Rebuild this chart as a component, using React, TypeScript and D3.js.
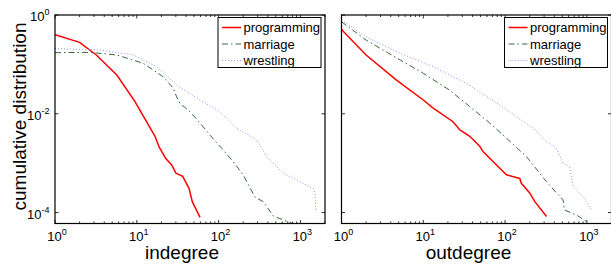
import { useEffect, useRef } from 'react'
import * as d3 from 'd3'

// [degree, cumulative fraction]
const inProgramming: [number, number][] = [
  [1, 0.40], [2, 0.28], [3.2, 0.155], [5.7, 0.061], [9.5, 0.0176], [16.7, 0.0035],
  [18.8, 0.0021], [22.5, 0.00125], [26.7, 0.00092], [30.1, 0.00063], [36.4, 0.00054],
  [43.5, 0.00031], [47.7, 0.000166], [59.3, 0.00008],
]
const inMarriage: [number, number][] = [
  [1, 0.173], [2.7, 0.175], [5.7, 0.155], [12, 0.105], [21.1, 0.056], [27.9, 0.033],
  [30.7, 0.022], [33.7, 0.0163], [44.7, 0.011], [59.3, 0.0065], [78.5, 0.0037],
  [109, 0.002], [151, 0.00107], [200, 0.00058], [279, 0.000204], [352, 0.000166],
  [467, 0.000085], [745, 0.000063], [790, 0.00006],
]
const inWrestling: [number, number][] = [
  [1, 0.21], [3.55, 0.195], [9.1, 0.155], [17.5, 0.09], [30.7, 0.038], [59.3, 0.019],
  [104, 0.011], [166, 0.0051], [292, 0.003], [387, 0.00135], [617, 0.00063],
  [1194, 0.00036], [1460, 0.0003], [1520, 0.00022], [1540, 0.000105],
]
const outProgramming: [number, number][] = [
  [1, 0.51], [2, 0.155], [4.7, 0.048], [10, 0.019], [13.2, 0.013], [23.1, 0.0069],
  [28, 0.0047], [37, 0.0035], [49, 0.0022], [54, 0.0017], [78.5, 0.00092],
  [104, 0.00058], [151, 0.00049], [158, 0.00039], [200, 0.00025], [231, 0.000166],
  [321, 0.000083],
]
const outMarriage: [number, number][] = [
  [1, 0.73], [2, 0.31], [5.2, 0.123], [10, 0.066], [21, 0.03], [37, 0.014], [65, 0.0065],
  [104, 0.0032], [183, 0.00135], [321, 0.00042], [425, 0.00025], [512, 0.00018],
  [531, 0.000113], [745, 0.000089], [990, 0.000066],
]
const outWrestling: [number, number][] = [
  [1, 0.79], [2, 0.36], [5.2, 0.168], [13.2, 0.09], [33.7, 0.041], [86, 0.015],
  [138, 0.0087], [220, 0.0051], [321, 0.0027], [425, 0.002], [512, 0.001], [617, 0.00085],
  [678, 0.00033], [898, 0.00021], [1137, 0.000113],
]

const seriesNames = ['programming', 'marriage', 'wrestling']
const colors = ['#ff0000', '#3a6646', '#8f8fff']
const dashes = [null, '6,3,1.5,3', '1,2']
const widths = [1.5, 1, 1]

const panels = [
  { xlabel: 'indegree', series: [inProgramming, inMarriage, inWrestling], ylabels: true },
  { xlabel: 'outdegree', series: [outProgramming, outMarriage, outWrestling], ylabels: false },
]

const xDomain: [number, number] = [1, 2000]
const yDomain: [number, number] = [6e-5, 1]
const xTicks = [1, 10, 100, 1000]
const yTicks = [1e-4, 1e-2, 1]

export default function App() {
  const svgRef = useRef<SVGSVGElement>(null)
  const width = 611
  const height = 264

  useEffect(() => {
    const svg = d3.select(svgRef.current)
    svg.selectAll('*').remove()
    const font = 'Liberation Sans, Arial, Helvetica, sans-serif'

    const top = 15, bottom = 223.5
    const lefts = [55, 341.5]
    const pw = 270

    const y = d3.scaleLog().domain(yDomain).range([bottom, top])

    panels.forEach((p, pi) => {
      const x = d3.scaleLog().domain(xDomain).range([lefts[pi], lefts[pi] + pw])
      const g = svg.append('g')

      const clipId = `clip${pi}`
      svg.append('clipPath').attr('id', clipId)
        .append('rect').attr('x', lefts[pi]).attr('y', top).attr('width', pw).attr('height', bottom - top)

      const line = d3.line<[number, number]>()
        .x(d => x(d[0]))
        .y(d => y(d[1]))

      p.series.forEach((s, si) => {
        g.append('path')
          .attr('d', line(s))
          .attr('clip-path', `url(#${clipId})`)
          .attr('fill', 'none')
          .attr('stroke', colors[si])
          .attr('stroke-width', widths[si])
          .attr('stroke-dasharray', dashes[si])
      })

      // box
      g.append('rect')
        .attr('x', lefts[pi]).attr('y', top).attr('width', pw).attr('height', bottom - top)
        .attr('fill', 'none').attr('stroke', '#000').attr('stroke-width', 1.2)

      // x ticks (major + minor), bottom and top, inward
      const minor: number[] = []
      for (let e = 0; e < 4; e++) for (let m = 1; m < 10; m++) {
        const v = m * Math.pow(10, e)
        if (v <= xDomain[1]) minor.push(v)
      }
      minor.forEach(v => {
        const len = xTicks.includes(v) ? 3.5 : 2
        const xx = x(v)
        g.append('line').attr('x1', xx).attr('x2', xx).attr('y1', bottom).attr('y2', bottom - len)
          .attr('stroke', '#000').attr('stroke-width', 0.8)
        g.append('line').attr('x1', xx).attr('x2', xx).attr('y1', top).attr('y2', top + len)
          .attr('stroke', '#000').attr('stroke-width', 0.8)
      })
      yTicks.forEach(v => {
        const yy = y(v)
        g.append('line').attr('x1', lefts[pi]).attr('x2', lefts[pi] + 3.5).attr('y1', yy).attr('y2', yy)
          .attr('stroke', '#000').attr('stroke-width', 0.8)
        g.append('line').attr('x1', lefts[pi] + pw).attr('x2', lefts[pi] + pw - 3.5).attr('y1', yy).attr('y2', yy)
          .attr('stroke', '#000').attr('stroke-width', 0.8)
      })

      // x tick labels
      xTicks.forEach(v => {
        const t = g.append('text')
          .attr('x', x(v) + 2).attr('y', 240.5)
          .attr('text-anchor', 'middle')
          .style('font-family', font).style('font-size', '13px')
        t.append('tspan').text('10')
        t.append('tspan').attr('dy', -6).style('font-size', '9px').text(String(Math.round(Math.log10(v))))
      })

      if (p.ylabels) {
        yTicks.forEach(v => {
          const t = g.append('text')
            .attr('x', 49.5).attr('y', y(v) + 6)
            .attr('text-anchor', 'end')
            .style('font-family', font).style('font-size', '13px')
          t.append('tspan').text('10')
          t.append('tspan').attr('dy', -6).style('font-size', '9px').text(String(Math.round(Math.log10(v))))
        })
      }

      g.append('text')
        .attr('x', lefts[pi] + pw / 2 - 8).attr('y', 259)
        .attr('text-anchor', 'middle')
        .style('font-family', font).style('font-size', '19px')
        .text(p.xlabel)

      // legend
      const lx = lefts[pi] + pw - 107
      const ly = 17.5
      g.append('rect').attr('x', lx).attr('y', ly).attr('width', 103).attr('height', 50)
        .attr('fill', '#fff').attr('stroke', '#000').attr('stroke-width', 1)
      seriesNames.forEach((name, si) => {
        const yy = ly + 10 + si * 16.5
        g.append('line').attr('x1', lx + 4).attr('x2', lx + 23).attr('y1', yy).attr('y2', yy)
          .attr('stroke', colors[si]).attr('stroke-width', widths[si])
          .attr('stroke-dasharray', dashes[si])
        g.append('text').attr('x', lx + 25.5).attr('y', yy + 4.5)
          .style('font-family', font).style('font-size', '13px')
          .text(name)
      })
    })

    svg.append('text')
      .attr('transform', `translate(26, 116.5) rotate(-90)`)
      .attr('text-anchor', 'middle')
      .style('font-family', font).style('font-size', '19px')
      .text('cumulative distribution')
  }, [])

  return (
    <svg ref={svgRef} width={width} height={height}
      style={{ position: 'absolute', left: 0, top: 0, background: '#fff' }} />
  )
}
